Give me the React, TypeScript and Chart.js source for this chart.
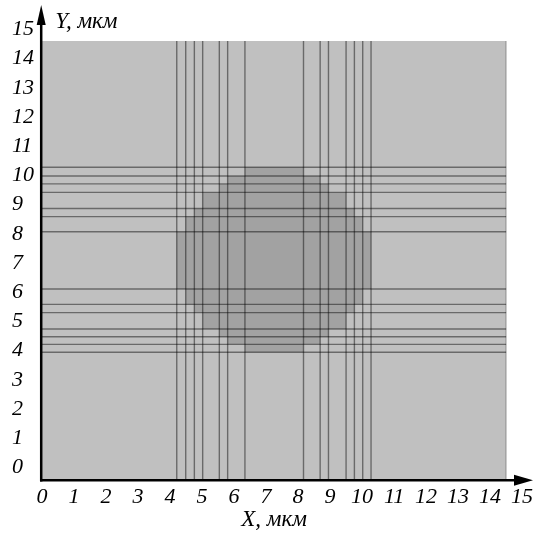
import React, { useEffect, useRef } from 'react';
import { Chart, registerables } from 'chart.js';

Chart.register(...registerables);

// ---- data (micrometres) ----
const domainSize = 14.5;
const xTickLabels = [0, 1, 2, 3, 4, 5, 6, 7, 8, 9, 10, 11, 12, 13, 14, 15];
const yTickLabels = [0, 1, 2, 3, 4, 5, 6, 7, 8, 9, 10, 11, 12, 13, 14, 15];

// vertical mesh lines (x positions)
const xLines = [4.21, 4.49, 4.76, 5.02, 5.54, 5.8, 6.34, 8.17, 8.69, 8.95, 9.5, 9.76, 10.02, 10.28];
// horizontal mesh lines (y positions)
const yLines = [4.22, 4.48, 4.73, 4.99, 5.53, 5.8, 6.31, 8.2, 8.7, 8.97, 9.5, 9.78, 10.04, 10.33];

// stepped inclusion: row boundaries (y) and the x extent of each row
const circleRowEdges = [4.22, 4.48, 4.73, 4.99, 5.53, 5.8, 6.31, 8.2, 8.7, 8.97, 9.5, 9.78, 10.04, 10.33];
const circleRowLeft = [6.34, 5.8, 5.54, 5.02, 4.76, 4.49, 4.21, 4.49, 4.76, 5.02, 5.54, 5.8, 6.34];
const circleRowRight = [8.17, 8.69, 8.95, 9.5, 9.76, 10.02, 10.28, 10.02, 9.76, 9.5, 8.95, 8.69, 8.17];

const FONT = '"Liberation Serif", "Times New Roman", serif';

export default function App() {
  const ref = useRef<HTMLCanvasElement>(null);

  useEffect(() => {
    if (!ref.current) return;

    const poly: { x: number; y: number }[] = [];
    for (let i = 0; i < circleRowRight.length; i++) {
      poly.push({ x: circleRowRight[i], y: circleRowEdges[i] });
      poly.push({ x: circleRowRight[i], y: circleRowEdges[i + 1] });
    }
    for (let i = circleRowLeft.length - 1; i >= 0; i--) {
      poly.push({ x: circleRowLeft[i], y: circleRowEdges[i + 1] });
      poly.push({ x: circleRowLeft[i], y: circleRowEdges[i] });
    }

    const lineStyle = {
      showLine: true,
      borderColor: 'rgba(0,0,0,0.45)',
      borderWidth: 1.4,
      pointRadius: 0,
      fill: false,
      xAxisID: 'x',
      yAxisID: 'y',
      order: 0,
    };

    const datasets: any[] = [
      ...xLines.map((v) => ({ ...lineStyle, data: [{ x: v, y: 0 }, { x: v, y: domainSize }] })),
      ...yLines.map((v) => ({ ...lineStyle, data: [{ x: 0, y: v }, { x: domainSize, y: v }] })),
      {
        ...lineStyle,
        borderColor: 'rgba(0,0,0,0.25)',
        data: [{ x: domainSize, y: 0 }, { x: domainSize, y: domainSize }],
      },
      {
        showLine: true,
        data: poly,
        fill: 'shape',
        backgroundColor: '#a2a2a2',
        borderColor: 'transparent',
        borderWidth: 0,
        pointRadius: 0,
        xAxisID: 'x',
        yAxisID: 'y',
        order: 1,
      },
      {
        showLine: true,
        data: [{ x: 0, y: domainSize }, { x: domainSize, y: domainSize }],
        fill: 'origin',
        backgroundColor: '#c0c0c0',
        borderColor: 'transparent',
        borderWidth: 0,
        pointRadius: 0,
        xAxisID: 'x',
        yAxisID: 'y',
        order: 2,
      },
    ];

    const axesPlugin = {
      id: 'axesArrows',
      afterDraw(chart: any) {
        const { ctx, chartArea } = chart;
        const xs = chart.scales.x;
        const ys = chart.scales.y;
        const x0 = xs.getPixelForValue(0) - 0.8;
        const y0 = ys.getPixelForValue(0) + 0.3;
        ctx.save();
        ctx.strokeStyle = '#000';
        ctx.fillStyle = '#000';
        ctx.lineWidth = 2.5;
        ctx.beginPath();
        ctx.moveTo(x0, y0 + 1.2);
        ctx.lineTo(x0, chartArea.top + 16);
        ctx.stroke();
        ctx.beginPath();
        ctx.moveTo(x0 - 1.2, y0);
        ctx.lineTo(chartArea.right - 14, y0);
        ctx.stroke();
        // arrowheads
        ctx.beginPath();
        ctx.moveTo(x0, chartArea.top);
        ctx.lineTo(x0 - 4.5, chartArea.top + 20);
        ctx.lineTo(x0 + 4.5, chartArea.top + 20);
        ctx.closePath();
        ctx.fill();
        ctx.beginPath();
        ctx.moveTo(chartArea.right, y0);
        ctx.lineTo(chartArea.right - 19, y0 - 5.5);
        ctx.lineTo(chartArea.right - 19, y0 + 5.5);
        ctx.closePath();
        ctx.fill();
        // axis titles
        ctx.font = `italic 23px ${FONT}`;
        ctx.textBaseline = 'middle';
        ctx.textAlign = 'center';
        ctx.fillText('X, мкм', xs.getPixelForValue(domainSize / 2), chartArea.bottom + 40);
        ctx.textAlign = 'left';
        ctx.fillText('Y, мкм', x0 + 14, chartArea.top + 17);
        ctx.restore();
      },
    };

    const tickFont = { family: FONT, size: 22, style: 'italic' as const };

    const chart = new Chart(ref.current, {
      type: 'scatter',
      data: { datasets },
      options: {
        animation: false,
        responsive: false,
        devicePixelRatio: 1,
        events: [],
        layout: { padding: { left: 12, right: 4, top: 5, bottom: 0 } },
        plugins: { legend: { display: false }, tooltip: { enabled: false }, title: { display: false } },
        scales: {
          x: {
            type: 'linear',
            position: 'bottom',
            min: 0,
            max: 15.34,
            bounds: 'data',
            grid: { display: false, drawTicks: false },
            border: { display: false },
            ticks: {
              autoSkip: false,
              maxRotation: 0,
              minRotation: 0,
              padding: 4,
              color: '#000',
              font: tickFont,
              callback: (v: any) => String(v),
            },
            afterBuildTicks: (s: any) => {
              s.ticks = xTickLabels.map((v) => ({ value: v }));
            },
            afterFit: (s: any) => {
              s.height = 53;
              s.paddingLeft = 0;
              s.paddingRight = 0;
            },
          },
          y: {
            type: 'linear',
            position: 'left',
            min: 0,
            max: 15.69,
            bounds: 'data',
            display: false,
          },
          yl: {
            type: 'linear',
            position: 'left',
            min: -0.428,
            max: 15.839,
            bounds: 'data',
            grid: { display: false, drawTicks: false },
            border: { display: false },
            ticks: {
              autoSkip: false,
              crossAlign: 'far',
              padding: 0,
              color: '#000',
              font: tickFont,
              callback: (v: any) => String(v),
            },
            afterBuildTicks: (s: any) => {
              s.ticks = yTickLabels.map((v) => ({ value: v }));
            },
            afterFit: (s: any) => {
              s.width = 30;
              s.paddingTop = 0;
              s.paddingBottom = 0;
            },
          },
        },
      } as any,
      plugins: [axesPlugin],
    });

    return () => chart.destroy();
  }, []);

  return (
    <div style={{ position: 'fixed', left: 0, top: 0, width: 537, height: 533, background: '#fff' }}>
      <canvas ref={ref} width={537} height={533} style={{ display: 'block', width: 537, height: 533 }} />
    </div>
  );
}
